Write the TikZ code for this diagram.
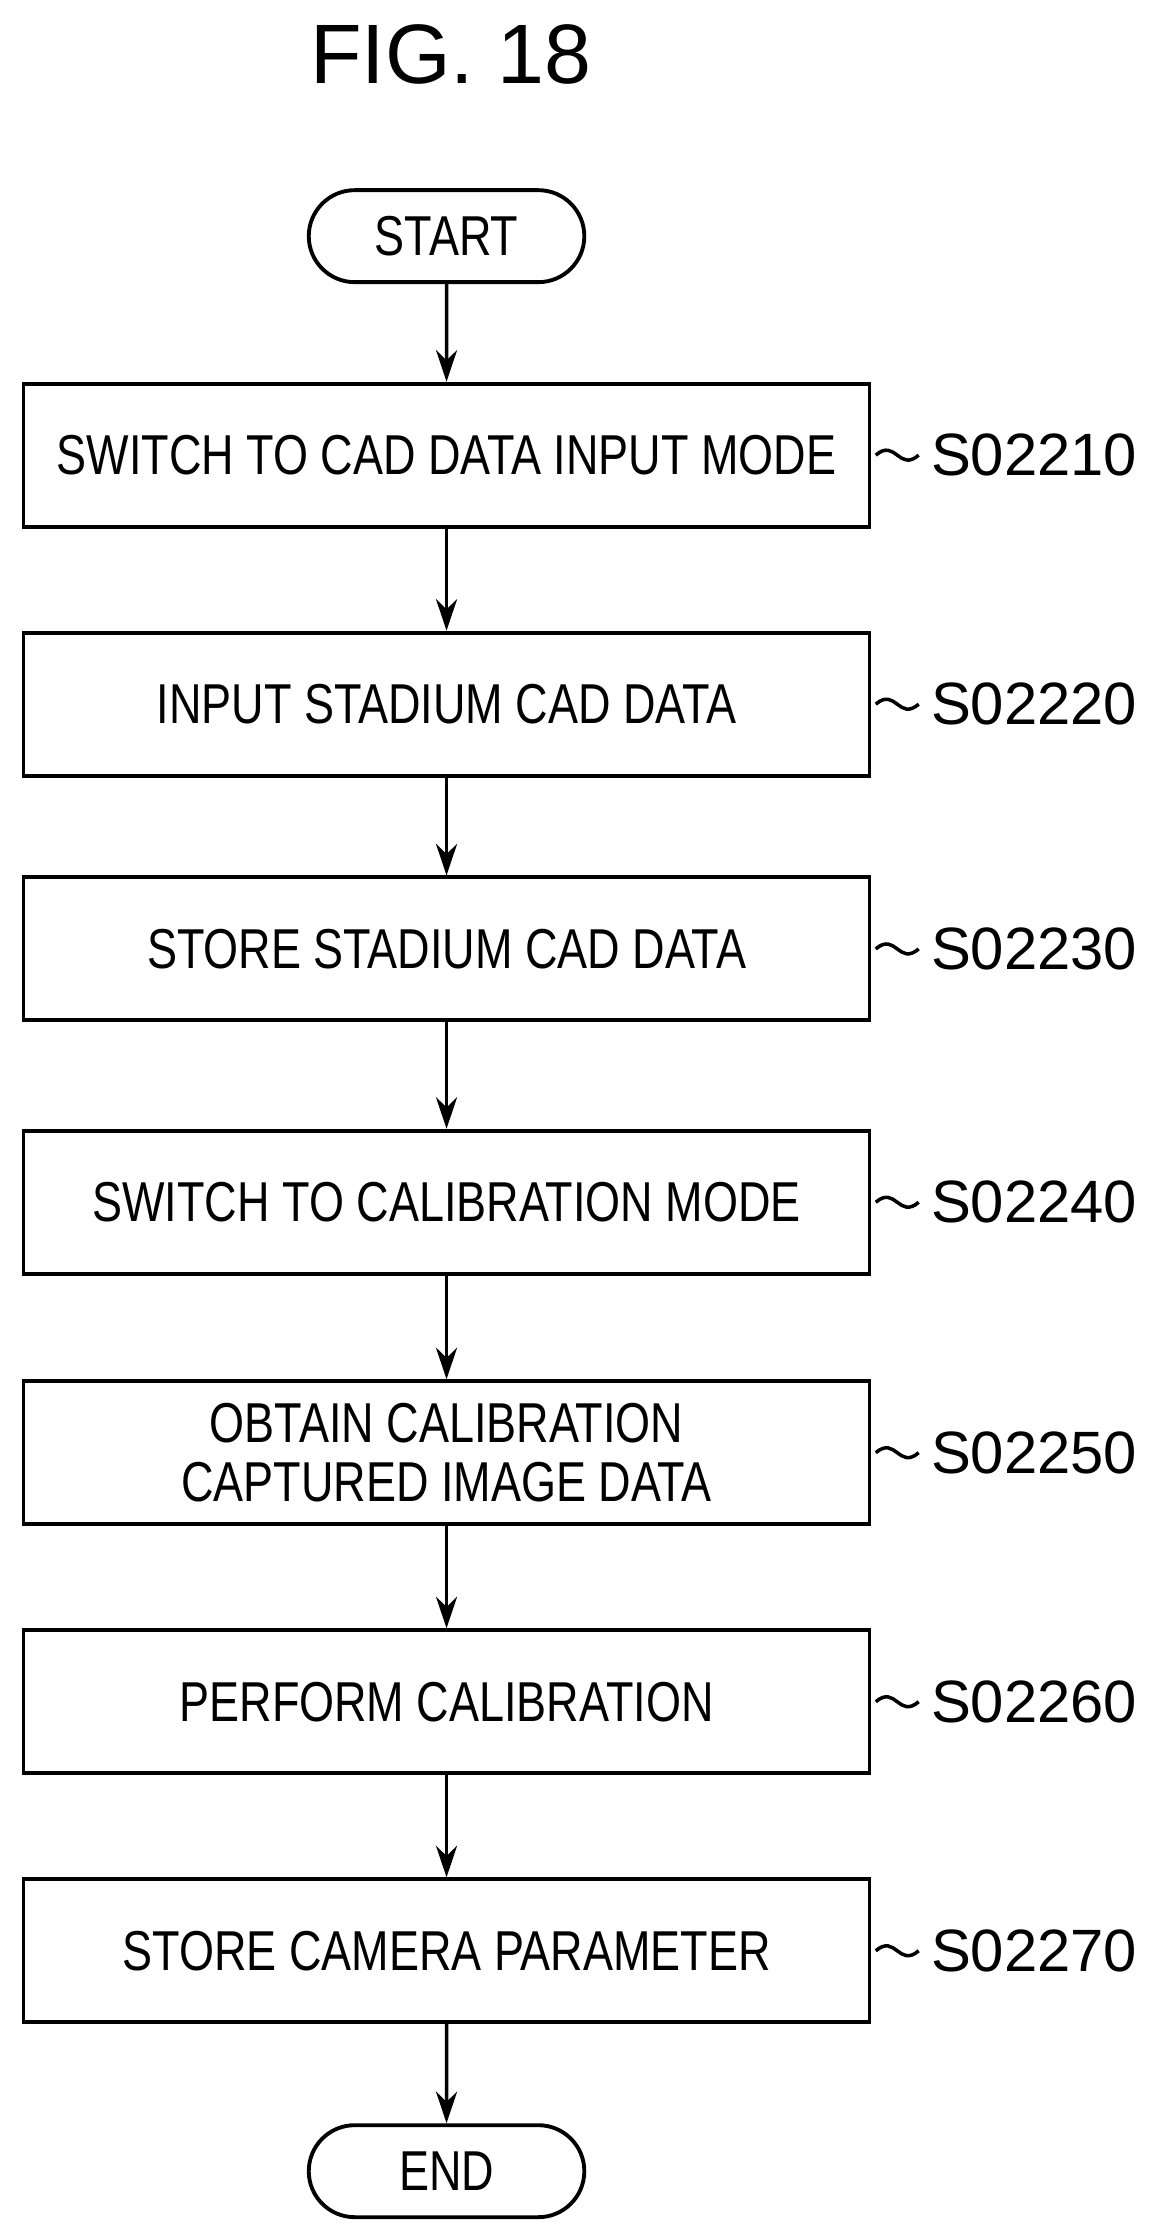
\documentclass[tikz,border=0pt]{standalone}
\usepackage{fontspec}
\setmainfont{Liberation Sans}
\newfontfamily\condfont[FakeStretch=0.8]{Liberation Sans}
\usetikzlibrary{shapes.misc,arrows.meta}
\tikzset{
  stepbox/.style={draw, line width=1.1pt, minimum width=8.46cm, minimum height=1.43cm, align=center, font=\condfont\fontsize{16}{17}\selectfont},
  term/.style={draw, line width=1.1pt, rounded rectangle, minimum width=2.99cm, minimum height=0.92cm, font=\condfont\fontsize{16}{18}\selectfont},
  flow/.style={-{Stealth[length=9pt,width=6pt]}, line width=1pt},
  tag/.style={anchor=west, font=\fontsize{17}{20}\selectfont}
}
\begin{document}
\begin{tikzpicture}[x=0.01431cm, y=-0.01431cm]
  \useasboundingbox (0,0) rectangle (810,1563);
  \node[font=\fontsize{24}{28}\selectfont] (title) at (315,38) {FIG. 18};
  \node[term] (start) at (312,165) {START};
  \foreach \n/\yy/\txt/\lab in {
      1/318/SWITCH TO CAD DATA INPUT MODE/S02210,
      2/492/INPUT STADIUM CAD DATA/S02220,
      3/663/STORE STADIUM CAD DATA/S02230,
      4/840/SWITCH TO CALIBRATION MODE/S02240,
      5/1015/{OBTAIN CALIBRATION\\CAPTURED IMAGE DATA}/S02250,
      6/1189/PERFORM CALIBRATION/S02260,
      7/1363/STORE CAMERA PARAMETER/S02270}{
    \node[stepbox] (s\n) at (312,\yy) {\txt};
    \draw[line width=1pt] (s\n.east) ++(3,0) .. controls +(14,-12) and +(-14,12) .. ++(30,0) coordinate (w\n);
    \node[tag] (l\n) at (w\n) {\lab};
  }
  \node[term] (end) at (312,1517) {END};
  % connectors
  \draw[flow] (start) -- (s1);
  \foreach \a/\b in {1/2,2/3,3/4,4/5,5/6,6/7}
    \draw[flow] (s\a) -- (s\b);
  \draw[flow] (s7) -- (end);
\end{tikzpicture}
\end{document}
